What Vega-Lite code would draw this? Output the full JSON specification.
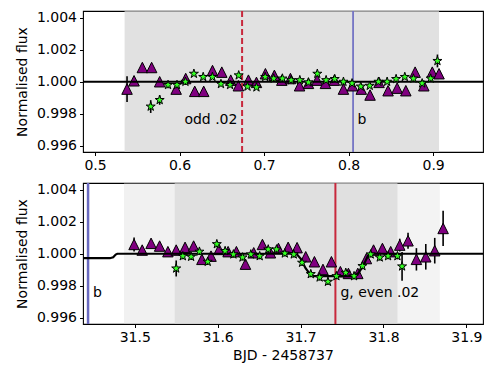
{
  "$schema": "https://vega.github.io/schema/vega-lite/v6.json",
  "padding": {"left": 14, "top": 9, "right": 10, "bottom": 5},
  "spacing": 7,
  "config": {
    "font": "DejaVu Sans",
    "view": {"stroke": "black", "strokeWidth": 1.1},
    "axis": {"grid": false, "domain": false, "tickColor": "black", "tickSize": 3.5, "tickWidth": 1, "labelColor": "black", "labelFontSize": 14, "titleFontSize": 14, "titleFontWeight": "normal", "titleColor": "black", "labelPadding": 3, "labelFlush": false, "labelOverlap": false},
    "axisX": {"tickCount": 5, "format": ".1f", "titlePadding": 4},
    "axisY": {"format": ".3f", "tickCount": 5, "titlePadding": 7}
  },
  "datasets": {
    "topCloud": [
      {"x": 0.535, "x2": 0.907, "o": 0.72}
    ],
    "topModel": [{"x": 0.47, "y": 1.0}, {"x": 0.98, "y": 1.0}],
    "topRed": [{"x": 0.674}],
    "topBlue": [{"x": 0.8053}],
    "topTextR": [{"x": 0.6685, "y": 0.99758, "t": "odd .02"}],
    "topTextL": [{"x": 0.8106, "y": 0.99758, "t": "b"}],
    "topTri": [
      {"x": 0.5379, "y": 0.99954, "e": 0.0008},
      {"x": 0.5462, "y": 1.00006, "e": 0.0003},
      {"x": 0.556, "y": 1.00089, "e": 0.0002},
      {"x": 0.567, "y": 1.00089, "e": 0.0002},
      {"x": 0.5765, "y": 1.0, "e": 0.0002},
      {"x": 0.596, "y": 0.99954, "e": 0.0002},
      {"x": 0.6073, "y": 1.0002, "e": 0.0002},
      {"x": 0.618, "y": 0.9994, "e": 0.0002},
      {"x": 0.6286, "y": 0.9994, "e": 0.0002},
      {"x": 0.639, "y": 1.0007, "e": 0.0002},
      {"x": 0.65, "y": 1.0006, "e": 0.0002},
      {"x": 0.6606, "y": 1.0001, "e": 0.0002},
      {"x": 0.6696, "y": 0.99975, "e": 0.0002},
      {"x": 0.6815, "y": 1.0001, "e": 0.0002},
      {"x": 0.691, "y": 0.99996, "e": 0.0002},
      {"x": 0.7016, "y": 1.0005, "e": 0.0002},
      {"x": 0.7122, "y": 1.0004, "e": 0.0002},
      {"x": 0.721, "y": 1.0001, "e": 0.0002},
      {"x": 0.7312, "y": 1.0002, "e": 0.0002},
      {"x": 0.742, "y": 0.99975, "e": 0.0002},
      {"x": 0.7525, "y": 0.9999, "e": 0.0002},
      {"x": 0.7627, "y": 1.0001, "e": 0.0002},
      {"x": 0.7726, "y": 0.9999, "e": 0.0002},
      {"x": 0.7832, "y": 1.0001, "e": 0.0002},
      {"x": 0.7939, "y": 0.99954, "e": 0.0002},
      {"x": 0.8045, "y": 0.99975, "e": 0.0002},
      {"x": 0.815, "y": 0.99954, "e": 0.0002},
      {"x": 0.8254, "y": 0.99917, "e": 0.0002},
      {"x": 0.836, "y": 0.99996, "e": 0.0002},
      {"x": 0.8467, "y": 0.99944, "e": 0.0002},
      {"x": 0.8574, "y": 0.9996, "e": 0.0002},
      {"x": 0.8677, "y": 0.99944, "e": 0.0002},
      {"x": 0.8787, "y": 1.0006, "e": 0.0002},
      {"x": 0.889, "y": 0.99975, "e": 0.0002},
      {"x": 0.899, "y": 1.0006, "e": 0.0002},
      {"x": 0.907, "y": 1.0005, "e": 0.0002}
    ],
    "topStar": [
      {"x": 0.5659, "y": 0.99845, "e": 0.0004},
      {"x": 0.5765, "y": 0.99886, "e": 0.0003},
      {"x": 0.5864, "y": 0.9998, "e": 0.0002},
      {"x": 0.597, "y": 0.9998, "e": 0.0002},
      {"x": 0.607, "y": 1.0, "e": 0.0002},
      {"x": 0.617, "y": 1.0005, "e": 0.0001},
      {"x": 0.628, "y": 1.0003, "e": 0.0001},
      {"x": 0.6389, "y": 1.0003, "e": 0.0001},
      {"x": 0.649, "y": 0.99986, "e": 0.0001},
      {"x": 0.6598, "y": 0.9998, "e": 0.0001},
      {"x": 0.67, "y": 1.0004, "e": 0.0001},
      {"x": 0.6804, "y": 0.9997, "e": 0.0001},
      {"x": 0.691, "y": 0.99965, "e": 0.0001},
      {"x": 0.7013, "y": 1.0003, "e": 0.0001},
      {"x": 0.7114, "y": 1.0002, "e": 0.0001},
      {"x": 0.7217, "y": 1.0002, "e": 0.0001},
      {"x": 0.732, "y": 1.0001, "e": 0.0001},
      {"x": 0.7423, "y": 1.0001, "e": 0.0001},
      {"x": 0.7525, "y": 0.99996, "e": 0.0001},
      {"x": 0.763, "y": 1.0005, "e": 0.0001},
      {"x": 0.7734, "y": 1.0001, "e": 0.0001},
      {"x": 0.7836, "y": 1.00017, "e": 0.0001},
      {"x": 0.7939, "y": 1.0, "e": 0.0001},
      {"x": 0.8041, "y": 0.9999, "e": 0.0001},
      {"x": 0.8144, "y": 0.9997, "e": 0.0001},
      {"x": 0.825, "y": 0.99975, "e": 0.0001},
      {"x": 0.8353, "y": 1.0, "e": 0.0001},
      {"x": 0.8456, "y": 1.0, "e": 0.0001},
      {"x": 0.8562, "y": 1.00017, "e": 0.0001},
      {"x": 0.8665, "y": 1.0003, "e": 0.0001},
      {"x": 0.8767, "y": 1.0002, "e": 0.0001},
      {"x": 0.887, "y": 0.9999, "e": 0.0001},
      {"x": 0.8971, "y": 1.0002, "e": 0.0001},
      {"x": 0.9051, "y": 1.0013, "e": 0.0004}
    ],
    "botCloud": [
      {"x": 31.487, "x2": 31.548, "o": 0.35},
      {"x": 31.548, "x2": 31.817, "o": 0.75},
      {"x": 31.817, "x2": 31.868, "o": 0.3}
    ],
    "botModel": [
      {"x": 31.43, "y": 0.99972},
      {"x": 31.47, "y": 0.99972},
      {"x": 31.474, "y": 0.99978},
      {"x": 31.477, "y": 0.99995},
      {"x": 31.479, "y": 1.0},
      {"x": 31.695, "y": 1.0},
      {"x": 31.7, "y": 0.9997},
      {"x": 31.706, "y": 0.9991},
      {"x": 31.712, "y": 0.99868},
      {"x": 31.716, "y": 0.9986},
      {"x": 31.765, "y": 0.9986},
      {"x": 31.77, "y": 0.9988},
      {"x": 31.776, "y": 0.9993},
      {"x": 31.781, "y": 0.99985},
      {"x": 31.785, "y": 1.0},
      {"x": 31.93, "y": 1.0}
    ],
    "botRed": [{"x": 31.742}],
    "botBlue": [{"x": 31.4437}],
    "botText": [
      {"x": 31.4498, "y": 0.99752, "t": "b"},
      {"x": 31.748, "y": 0.99752, "t": "g, even .02"}
    ],
    "botTri": [
      {"x": 31.4992, "y": 1.00058, "e": 0.00044},
      {"x": 31.509, "y": 1.00023, "e": 0.0002},
      {"x": 31.5197, "y": 1.00065, "e": 0.0002},
      {"x": 31.53, "y": 1.00048, "e": 0.0002},
      {"x": 31.54, "y": 1.00013, "e": 0.0002},
      {"x": 31.55, "y": 1.00023, "e": 0.0002},
      {"x": 31.5607, "y": 1.0004, "e": 0.0002},
      {"x": 31.571, "y": 1.00048, "e": 0.0002},
      {"x": 31.581, "y": 0.99965, "e": 0.0002},
      {"x": 31.592, "y": 0.99985, "e": 0.0002},
      {"x": 31.6017, "y": 1.00027, "e": 0.0002},
      {"x": 31.6126, "y": 1.00013, "e": 0.0002},
      {"x": 31.6226, "y": 1.00013, "e": 0.0002},
      {"x": 31.6335, "y": 0.99935, "e": 0.0002},
      {"x": 31.6435, "y": 1.00006, "e": 0.0002},
      {"x": 31.654, "y": 1.00058, "e": 0.0002},
      {"x": 31.6636, "y": 1.00006, "e": 0.0002},
      {"x": 31.6733, "y": 1.00033, "e": 0.0002},
      {"x": 31.685, "y": 1.0004, "e": 0.0002},
      {"x": 31.6958, "y": 1.00038, "e": 0.0002},
      {"x": 31.7062, "y": 0.99981, "e": 0.0002},
      {"x": 31.7167, "y": 0.9995, "e": 0.0002},
      {"x": 31.727, "y": 0.99902, "e": 0.0002},
      {"x": 31.7372, "y": 0.9995, "e": 0.0002},
      {"x": 31.748, "y": 0.99888, "e": 0.0002},
      {"x": 31.7577, "y": 0.99877, "e": 0.0002},
      {"x": 31.769, "y": 0.99877, "e": 0.0002},
      {"x": 31.7794, "y": 0.9997, "e": 0.0002},
      {"x": 31.788, "y": 1.00023, "e": 0.0002},
      {"x": 31.7987, "y": 1.00033, "e": 0.0002},
      {"x": 31.8087, "y": 1.00013, "e": 0.0002},
      {"x": 31.8196, "y": 1.00054, "e": 0.0004},
      {"x": 31.8296, "y": 1.00081, "e": 0.0005},
      {"x": 31.8397, "y": 0.99965, "e": 0.0007},
      {"x": 31.851, "y": 0.99981, "e": 0.0008},
      {"x": 31.8618, "y": 1.00019, "e": 0.0008},
      {"x": 31.8719, "y": 1.00158, "e": 0.0011}
    ],
    "botStar": [
      {"x": 31.55, "y": 0.99908, "e": 0.0005},
      {"x": 31.558, "y": 0.99985, "e": 0.0002},
      {"x": 31.568, "y": 0.99981, "e": 0.0002},
      {"x": 31.578, "y": 1.00013, "e": 0.0002},
      {"x": 31.588, "y": 0.9995, "e": 0.0002},
      {"x": 31.599, "y": 1.0006, "e": 0.0002},
      {"x": 31.609, "y": 1.00017, "e": 0.0002},
      {"x": 31.619, "y": 0.99996, "e": 0.0002},
      {"x": 31.63, "y": 0.99977, "e": 0.0002},
      {"x": 31.64, "y": 0.99996, "e": 0.0002},
      {"x": 31.6507, "y": 0.99985, "e": 0.0002},
      {"x": 31.661, "y": 1.00027, "e": 0.0002},
      {"x": 31.671, "y": 1.00027, "e": 0.0002},
      {"x": 31.681, "y": 1.00002, "e": 0.0002},
      {"x": 31.6918, "y": 0.99996, "e": 0.0002},
      {"x": 31.7018, "y": 0.99944, "e": 0.0002},
      {"x": 31.7123, "y": 0.99873, "e": 0.0002},
      {"x": 31.723, "y": 0.99852, "e": 0.0002},
      {"x": 31.733, "y": 0.99825, "e": 0.0002},
      {"x": 31.7432, "y": 0.9986, "e": 0.0002},
      {"x": 31.7545, "y": 0.99881, "e": 0.0002},
      {"x": 31.7645, "y": 0.9986, "e": 0.0002},
      {"x": 31.7746, "y": 0.99923, "e": 0.0002},
      {"x": 31.7846, "y": 0.99996, "e": 0.0002},
      {"x": 31.7955, "y": 0.99977, "e": 0.0002},
      {"x": 31.8055, "y": 0.99985, "e": 0.0002},
      {"x": 31.8168, "y": 0.99985, "e": 0.0002},
      {"x": 31.8224, "y": 0.99921, "e": 0.0009}
    ]
  },
  "vconcat": [
    {
      "width": 400,
      "height": 141,
      "layer": [
        {
          "data": {"name": "topCloud"},
          "mark": {"type": "rect", "fill": "#d6d6d6", "clip": true},
          "encoding": {
            "x": {"field": "x", "type": "quantitative", "scale": {"domain": [0.4858, 0.959], "nice": false, "zero": false}, "title": null},
            "x2": {"field": "x2"},
            "y": {"datum": 0.99},
            "y2": {"datum": 1.01},
            "opacity": {"field": "o", "type": "quantitative", "scale": null, "legend": null}
          }
        },
        {
          "data": {"name": "topRed"},
          "mark": {"type": "rule", "color": "#c8283c", "strokeWidth": 2, "strokeDash": [6, 3]},
          "encoding": {"x": {"field": "x", "type": "quantitative", "title": null}}
        },
        {
          "data": {"name": "topBlue"},
          "mark": {"type": "rule", "color": "#7474c4", "strokeWidth": 1.8},
          "encoding": {"x": {"field": "x", "type": "quantitative", "title": null}}
        },
        {
          "data": {"name": "topTri"},
          "mark": {"type": "errorbar", "color": "black", "thickness": 1.6},
          "encoding": {
            "x": {"field": "x", "type": "quantitative", "title": null},
            "y": {"field": "y", "type": "quantitative", "scale": {"domain": [0.99561, 1.00442], "nice": false, "zero": false}, "title": "Normalised flux"},
            "yError": {"field": "e"}
          }
        },
        {
          "data": {"name": "topTri"},
          "mark": {"type": "point", "shape": "M0,-1L1,1L-1,1Z", "size": 110, "filled": true, "fill": "#800080", "stroke": "black", "strokeWidth": 1, "opacity": 1},
          "encoding": {
            "x": {"field": "x", "type": "quantitative", "title": null},
            "y": {"field": "y", "type": "quantitative", "title": "Normalised flux"}
          }
        },
        {
          "data": {"name": "topModel"},
          "mark": {"type": "line", "color": "black", "strokeWidth": 2.2, "clip": true},
          "encoding": {
            "x": {"field": "x", "type": "quantitative", "title": null},
            "y": {"field": "y", "type": "quantitative", "title": "Normalised flux"}
          }
        },
        {
          "data": {"name": "topStar"},
          "mark": {"type": "errorbar", "color": "black", "thickness": 1.6},
          "encoding": {
            "x": {"field": "x", "type": "quantitative", "title": null},
            "y": {"field": "y", "type": "quantitative", "title": "Normalised flux"},
            "yError": {"field": "e"}
          }
        },
        {
          "data": {"name": "topStar"},
          "mark": {"type": "point", "shape": "M0,-1L0.225,-0.309L0.951,-0.309L0.363,0.118L0.588,0.809L0,0.382L-0.588,0.809L-0.363,0.118L-0.951,-0.309L-0.225,-0.309Z", "size": 90, "filled": true, "fill": "#33ff22", "stroke": "black", "strokeWidth": 1, "opacity": 1},
          "encoding": {
            "x": {"field": "x", "type": "quantitative", "title": null},
            "y": {"field": "y", "type": "quantitative", "title": "Normalised flux"}
          }
        },
        {
          "data": {"name": "topTextR"},
          "mark": {"type": "text", "align": "right", "baseline": "middle", "fontSize": 14, "color": "black"},
          "encoding": {
            "x": {"field": "x", "type": "quantitative", "title": null},
            "y": {"field": "y", "type": "quantitative", "title": "Normalised flux"},
            "text": {"field": "t"}
          }
        },
        {
          "data": {"name": "topTextL"},
          "mark": {"type": "text", "align": "left", "baseline": "middle", "fontSize": 14, "color": "black"},
          "encoding": {
            "x": {"field": "x", "type": "quantitative", "title": null},
            "y": {"field": "y", "type": "quantitative", "title": "Normalised flux"},
            "text": {"field": "t"}
          }
        }
      ]
    },
    {
      "width": 400,
      "height": 141,
      "layer": [
        {
          "data": {"name": "botCloud"},
          "mark": {"type": "rect", "fill": "#d6d6d6", "clip": true},
          "encoding": {
            "x": {"field": "x", "type": "quantitative", "scale": {"domain": [31.4376, 31.92], "nice": false, "zero": false}, "title": "BJD - 2458737"},
            "x2": {"field": "x2"},
            "y": {"datum": 0.99},
            "y2": {"datum": 1.01},
            "opacity": {"field": "o", "type": "quantitative", "scale": null, "legend": null}
          }
        },
        {
          "data": {"name": "botRed"},
          "mark": {"type": "rule", "color": "#c8283c", "strokeWidth": 2},
          "encoding": {"x": {"field": "x", "type": "quantitative", "title": "BJD - 2458737"}}
        },
        {
          "data": {"name": "botBlue"},
          "mark": {"type": "rule", "color": "#6a6ac0", "strokeWidth": 2.5},
          "encoding": {"x": {"field": "x", "type": "quantitative", "title": "BJD - 2458737"}}
        },
        {
          "data": {"name": "botTri"},
          "mark": {"type": "errorbar", "color": "black", "thickness": 1.6},
          "encoding": {
            "x": {"field": "x", "type": "quantitative", "title": "BJD - 2458737"},
            "y": {"field": "y", "type": "quantitative", "scale": {"domain": [0.99561, 1.00442], "nice": false, "zero": false}, "title": "Normalised flux"},
            "yError": {"field": "e"}
          }
        },
        {
          "data": {"name": "botTri"},
          "mark": {"type": "point", "shape": "M0,-1L1,1L-1,1Z", "size": 110, "filled": true, "fill": "#800080", "stroke": "black", "strokeWidth": 1, "opacity": 1},
          "encoding": {
            "x": {"field": "x", "type": "quantitative", "title": "BJD - 2458737"},
            "y": {"field": "y", "type": "quantitative", "title": "Normalised flux"}
          }
        },
        {
          "data": {"name": "botModel"},
          "mark": {"type": "line", "color": "black", "strokeWidth": 2.2, "clip": true},
          "encoding": {
            "x": {"field": "x", "type": "quantitative", "title": "BJD - 2458737"},
            "y": {"field": "y", "type": "quantitative", "title": "Normalised flux"}
          }
        },
        {
          "data": {"name": "botStar"},
          "mark": {"type": "errorbar", "color": "black", "thickness": 1.6},
          "encoding": {
            "x": {"field": "x", "type": "quantitative", "title": "BJD - 2458737"},
            "y": {"field": "y", "type": "quantitative", "title": "Normalised flux"},
            "yError": {"field": "e"}
          }
        },
        {
          "data": {"name": "botStar"},
          "mark": {"type": "point", "shape": "M0,-1L0.225,-0.309L0.951,-0.309L0.363,0.118L0.588,0.809L0,0.382L-0.588,0.809L-0.363,0.118L-0.951,-0.309L-0.225,-0.309Z", "size": 90, "filled": true, "fill": "#33ff22", "stroke": "black", "strokeWidth": 1, "opacity": 1},
          "encoding": {
            "x": {"field": "x", "type": "quantitative", "title": "BJD - 2458737"},
            "y": {"field": "y", "type": "quantitative", "title": "Normalised flux"}
          }
        },
        {
          "data": {"name": "botText"},
          "mark": {"type": "text", "align": "left", "baseline": "middle", "fontSize": 14, "color": "black"},
          "encoding": {
            "x": {"field": "x", "type": "quantitative", "title": "BJD - 2458737"},
            "y": {"field": "y", "type": "quantitative", "title": "Normalised flux"},
            "text": {"field": "t"}
          }
        }
      ]
    }
  ]
}
